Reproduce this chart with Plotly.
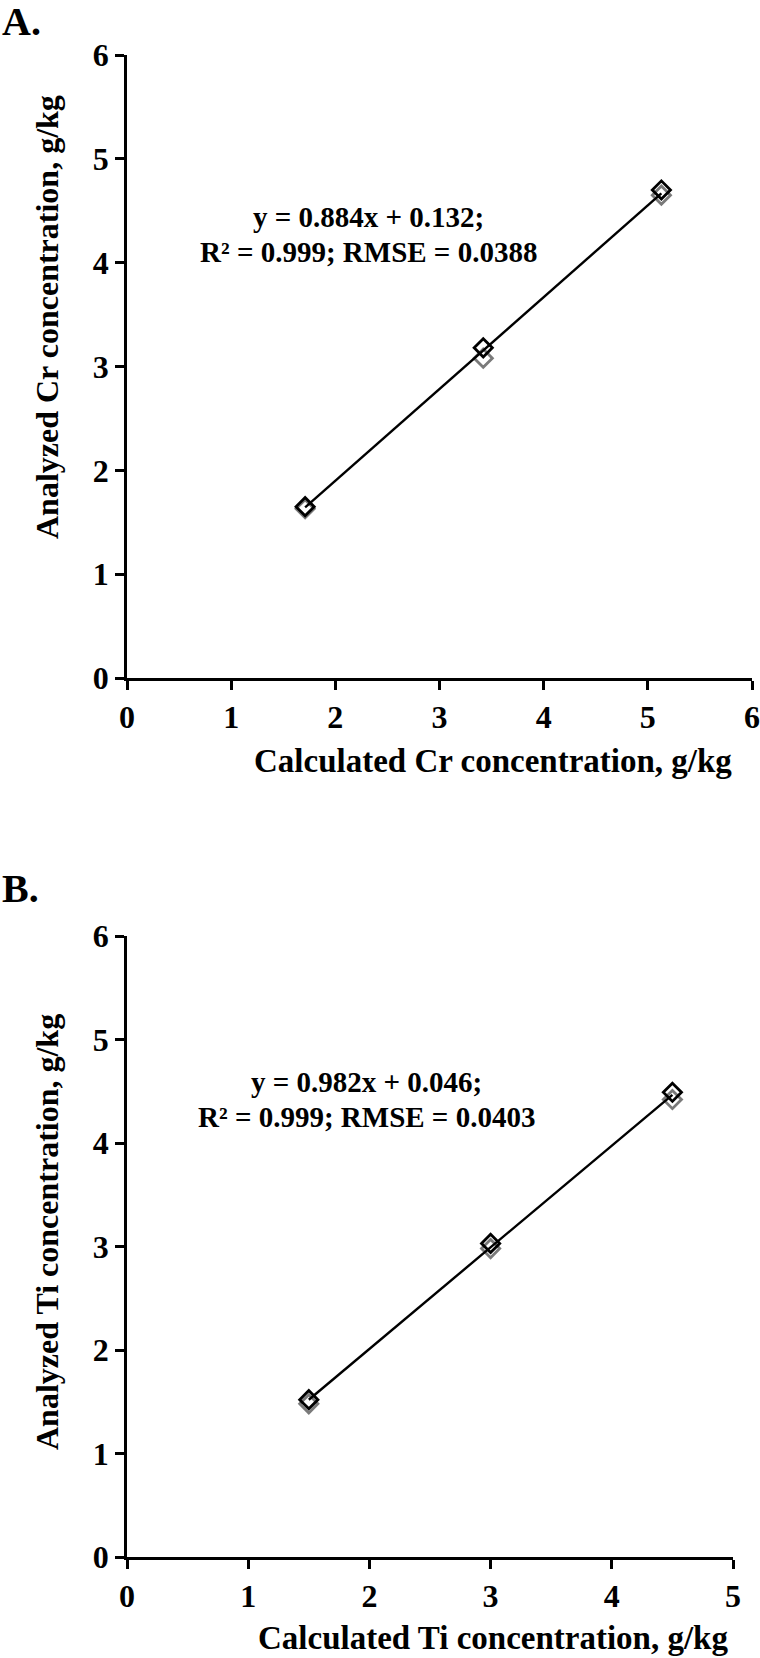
import plotly.graph_objects as go

W, H = 760, 1658
FONT = "Liberation Serif"

# Panel A: Cr
cr_calc = [1.71, 3.42, 5.13]
cr_an_black = [1.65, 3.18, 4.70]
cr_an_grey = [1.63, 3.08, 4.65]
cr_slope, cr_int = 0.884, 0.132
cr_eq = ["y = 0.884x + 0.132;", "R² = 0.999; RMSE = 0.0388"]

# Panel B: Ti
ti_calc = [1.50, 3.00, 4.50]
ti_an_black = [1.52, 3.03, 4.49]
ti_an_grey = [1.48, 2.98, 4.42]
ti_slope, ti_int = 0.982, 0.046
ti_eq = ["y = 0.982x + 0.046;", "R² = 0.999; RMSE = 0.0403"]

fig = go.Figure()

def add_panel(xa, ya, calc, black, grey, slope, inter):
    fig.add_trace(go.Scatter(x=calc, y=grey, mode="markers", xaxis=xa, yaxis=ya,
                             marker=dict(symbol="diamond-open", size=14, color="#7a7a7a",
                                         line=dict(width=2.8, color="#7a7a7a")),
                             showlegend=False))
    lx = [min(calc), max(calc)]
    ly = [slope * v + inter for v in lx]
    fig.add_trace(go.Scatter(x=lx, y=ly, mode="lines", xaxis=xa, yaxis=ya,
                             line=dict(color="black", width=2.4), showlegend=False))
    fig.add_trace(go.Scatter(x=calc, y=black, mode="markers", xaxis=xa, yaxis=ya,
                             marker=dict(symbol="diamond-open", size=14, color="black",
                                         line=dict(width=2.8, color="black")),
                             showlegend=False))

add_panel("x", "y", cr_calc, cr_an_black, cr_an_grey, cr_slope, cr_int)
add_panel("x2", "y2", ti_calc, ti_an_black, ti_an_grey, ti_slope, ti_int)

def py(pix):
    return 1 - pix / H

axis_common = dict(showgrid=False, zeroline=False, showline=True, linecolor="black",
                   linewidth=2.5, ticks="outside", ticklen=9, tickwidth=2.5, tickcolor="black",
                   tickfont=dict(family=FONT, size=32, color="black", weight="bold"),
                   dtick=1, tick0=0, automargin=False)

fig.update_layout(
    template="none",
    width=W, height=H, margin=dict(l=0, r=0, t=0, b=0, pad=0),
    paper_bgcolor="white", plot_bgcolor="white",
    xaxis=dict(domain=[127 / W, 752 / W], range=[0, 6], anchor="y", **axis_common),
    yaxis=dict(domain=[py(678), py(55)], range=[0, 6], anchor="x", **axis_common),
    xaxis2=dict(domain=[127 / W, 733 / W], range=[0, 5], anchor="y2", **axis_common),
    yaxis2=dict(domain=[py(1557), py(936)], range=[0, 6], anchor="x2", **axis_common),
)

tf = dict(family=FONT, color="black", weight="bold")
ann = []
def label(text, x, y, size, angle=0, xanchor="center"):
    ann.append(dict(text=text, x=x / W, y=py(y), xref="paper", yref="paper",
                    showarrow=False, textangle=angle, xanchor=xanchor, yanchor="middle",
                    font=dict(size=size, **tf)))

label("A.", 0, 21, 40, xanchor="left")
label("B.", 0, 888, 40, xanchor="left")
label("Calculated Cr concentration, g/kg", 493, 761, 33)
label("Analyzed Cr concentration, g/kg", 47, 317, 32, angle=-90)
label("Calculated Ti concentration, g/kg", 493, 1638, 33)
label("Analyzed Ti concentration, g/kg", 47, 1232, 32, angle=-90)
label(cr_eq[0], 368, 217, 29)
label(cr_eq[1], 368, 252, 29)
label(ti_eq[0], 366, 1082, 29)
label(ti_eq[1], 366, 1117, 29)
fig.update_layout(annotations=ann)

post = ("document.documentElement.style.margin='0';"
        "document.documentElement.style.overflow='hidden';"
        "document.body.style.margin='0';document.body.style.padding='0';"
        "document.body.style.overflow='hidden';")
fig.write_html("out.html", config={"displayModeBar": False}, post_script=post)
